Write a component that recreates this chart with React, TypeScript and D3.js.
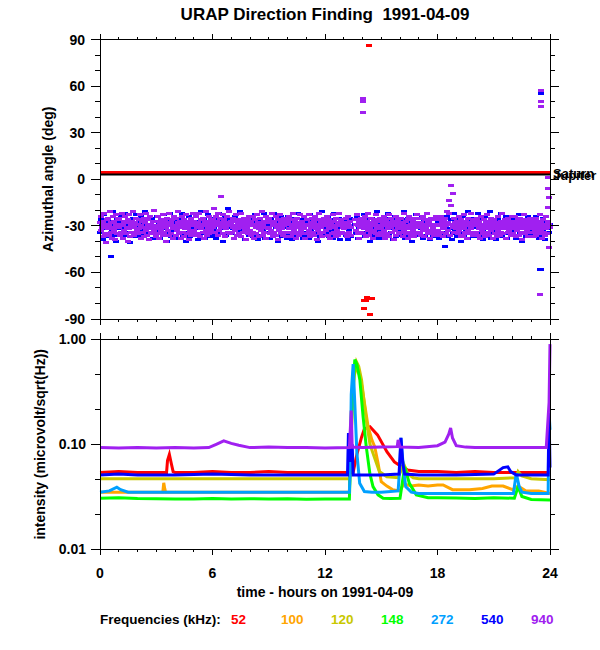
import React from 'react';
import * as d3 from 'd3';

// ---- chart values ----
const titleText = 'URAP Direction Finding  1991-04-09';
const hourTicks = [0, 6, 12, 18, 24];
const angleTicks = [-90, -60, -30, 0, 30, 60, 90];
const intensityTicks = [1, 0.1, 0.01];
const intensityLabels = ['1.00', '0.10', '0.01'];

const freqLabels = ['52', '100', '120', '148', '272', '540', '940'];
const freqColors = ['#FF0000', '#FFA500', '#C8C800', '#00FF00', '#00A0FF', '#0000FF', '#A020F0'];

const planetNames = ['Saturn', 'Jupiter'];
const planetAngles = [4.3, 3.0];
const planetColors = ['#FF0000', '#000000'];

// 940 kHz azimuth, three samples per 0.1 h, one row per hour
const purpleAngles: (number | null)[] = [
  -28, -33, -24, -31, -37, -27, -22, -30, -35, -29, -41, -26, -32, -25, -36, -30, -21, -34, -28, -38, -31, -24, -33, -27, -39, -29, -23, -35, -30, -26,
  -31, -25, -36, -29, -34, -22, -38, -30, -27, -33, -24, -35, -28, -31, -40, -26, -32, -23, -37, -29, -34, -27, -30, -21, -36, -31, -28, -35, -25, -33,
  -29, -35, -26, -32, -23, -38, -30, -27, -34, -31, -25, -37, -28, -33, -22, -36, -30, -26, -39, -31, -24, -34, -29, -32, -27, -35, -20, -33, -30, -37,
  -32, -27, -35, -24, -30, -38, -28, -33, -26, -31, -36, -23, -29, -34, -27, -40, -31, -25, -33, -29, -22, -36, -30, -28, -35, -26, -32, -38, -24, -31,
  -30, -36, -25, -33, -28, -21, -35, -31, -27, -38, -29, -24, -34, -30, -26, -37, -32, -28, -23, -35, -31, -27, -39, -29, -33, -25, -36, -30, -22, -34,
  -27, -33, -29, -36, -24, -31, -28, -35, -22, -30, -37, -26, -32, -29, -34, -25, -38, -30, -27, -33, -21, -36, -31, -28, -35, -24, -30, -33, -26, -29,
  -26, -31, -19, -28, -34, -24, -30, -27, -36, -22, -29, -33, -25, -11, -31, -28, -35, -23, -30, -26, -37, -29, -32, -24, -34, -28, -30, -21, -35, -27,
  -29, -34, -25, -31, -38, -27, -33, -23, -30, -36, -28, -32, -26, -35, -29, -22, -37, -31, -27, -34, -30, -25, -33, -28, -39, -31, -26, -35, -29, -24,
  -33, -27, -36, -30, -24, -34, -29, -38, -26, -31, -35, -23, -30, -28, -37, -32, -25, -33, -29, -21, -36, -30, -27, -34, -31, -24, -38, -28, -32, -26,
  -31, -25, -35, -28, -33, -22, -37, -30, -27, -34, -29, -24, -36, -31, -26, -39, -30, -33, -23, -35, -28, -32, -27, -36, -30, -25, -34, -29, -37, -26,
  -28, -34, -24, -32, -29, -37, -26, -31, -35, -22, -30, -33, -27, -38, -29, -25, -34, -31, -28, -36, -23, -30, -33, -27, -35, -29, -24, -32, -38, -30,
  -30, -26, -35, -29, -33, -23, -37, -28, -31, -25, -34, -30, -27, -36, -24, -32, -29, -39, -26, -33, -30, -22, -35, -28, -31, -37, -27, -34, -29, -25,
  -27, -33, -30, -24, -36, -29, -32, -26, -38, -31, -28, -35, -23, -30, -34, -27, -31, -37, -25, -33, -29, -36, -28, -22, -35, -30, -26, -34, -31, -29,
  -32, -28, -35, -25, -31, -37, -29, -24, -34, -30, -27, -36, -31, null, null, null, null, null, -26, -33, -29, -23, -35, -30, -27, -38, -31, -25, -34, -28,
  -29, -35, -26, -32, -24, -37, -30, -27, -33, -22, -36, -29, -31, -25, -34, -28, -38, -30, -26, -33, -29, -35, -23, -31, -27, -36, -30, -32, -25, -34,
  -31, -27, -36, -29, -33, -24, -38, -30, -26, -35, -28, -32, -23, -37, -29, -31, -25, -34, -30, -27, -39, -28, -33, -24, -36, -30, -26, -32, -35, -29,
  -28, -34, -25, -31, -37, -29, -33, -22, -30, -35, -27, -32, -26, -38, -30, -24, -34, -29, -36, -31, -27, -33, -25, -37, -30, -28, -35, -23, -31, -34,
  -30, -25, -34, -28, -36, -31, -24, -33, -29, -37, -26, -32, -30, -22, -35, -28, -33, -27, -38, -30, -25, -34, -31, -29, -36, -26, -33, -30, -24, -35,
  -29, -33, -26, -36, -30, -24, -34, -28, -31, -37, -27, -32, -25, -35, -30, -21, -33, -28, -14, -22, -36, -4, -17, -29, -9, -31, -25, -34, -28, -32,
  -31, -27, -35, -29, -24, -33, -30, -37, -26, -32, -28, -36, -23, -31, -34, -27, -30, -38, -25, -33, -29, -35, -28, -22, -32, -30, -36, -26, -34, -29,
  -28, -34, -30, -25, -36, -29, -32, -27, -38, -31, -24, -33, -29, -35, -26, -30, -37, -28, -32, -23, -34, -30, -27, -36, -31, -25, -33, -29, -38, -27,
  -32, -26, -35, -30, -28, -37, -24, -33, -29, -31, -36, -27, -34, -22, -30, -35, -28, -32, -26, -38, -31, -29, -34, -25, -33, -30, -27, -36, -31, -24,
  -29, -35, -27, -32, -24, -37, -30, -33, -26, -31, -28, -36, -25, -34, -30, -39, -27, -32, -29, -23, -35, -31, -26, -33, -37, -28, -30, -34, -25, -32,
  -30, -26, -34, -31, -37, -28, -33, -25, -36, -29, -32, -27, -35, -30, -23, -33, -28, -38, -31, -26, -34, -29, -36, -24, -32, -30, -27, -35, -44, -29,
  -31,
];

// 540 kHz azimuth, two samples per 0.1 h, one row per hour
const blueAngles: (number | null)[] = [
  -34, -26, -30, -39, -23, -32, -28, -35, -25, -31, -37, -27, -50, -33, -21, -36, -29, -40, -26, -32,
  -28, -35, -24, -31, -38, -29, -33, -22, -36, -30, -26, -34, -41, -28, -31, -25, -37, -30, -23, -33,
  -31, -37, -27, -33, -24, -30, -36, -28, -21, -34, -32, -26, -39, -29, -35, -25, -31, -38, -27, -33,
  -30, -24, -35, -29, -38, -26, -32, -36, -23, -31, -28, -40, -34, -27, -30, -22, -37, -29, -33, -25,
  -27, -33, -38, -25, -31, -35, -29, -22, -36, -30, -26, -34, -40, -28, -32, -24, -37, -31, -27, -35,
  -33, -28, -24, -36, -30, -39, -27, -32, -21, -35, -29, -26, -38, -31, -34, -23, -30, -37, -28, -33,
  -29, -36, -31, -25, -38, -28, -33, -22, -35, -30, -27, -40, -32, -24, -36, -29, -19, -34, -31, -26,
  -35, -27, -32, -38, -24, -30, -36, -28, -33, -21, -37, -31, -26, -34, -29, -39, -25, -32, -30, -36,
  -26, -34, -30, -37, -28, -23, -35, -31, -39, -27, -32, -25, -36, -29, -33, -22, -38, -30, -27, -34,
  -32, -38, -25, -30, -35, -28, -22, -36, -31, -27, -40, -33, -29, -24, -37, -31, -26, -34, -30, -38,
  -29, -24, -36, -32, -27, -39, -30, -34, -25, -37, -31, -22, -35, -28, -33, -26, -38, -30, -24, -36,
  -34, -30, -27, -38, -23, -33, -29, -36, -31, -25, -35, -28, -40, -32, -26, -37, -30, -21, -34, -29,
  -27, -35, -31, -24, -37, -29, -33, -26, -38, -30, -22, -36, -32, -28, -34, -25, -39, -31, -27, -35,
  -31, -26, -36, -30, -39, -28, -33, -25, -37, null, null, null, -29, -35, -24, -38, -31, -27, -34, -30,
  -28, -34, -23, -37, -31, -26, -35, -29, -40, -32, -25, -36, -30, -27, -33, -21, -38, -31, -28, -35,
  -33, -27, -38, -30, -25, -35, -31, -22, -36, -29, -34, -26, -39, -32, -28, -24, -37, -30, -33, -27,
  -30, -36, -26, -33, -21, -38, -29, -34, -31, -25, -37, -28, -32, -40, -27, -35, -30, -23, -36, -31,
  -35, -29, -32, -24, -38, -30, -27, -36, -31, -22, -34, -28, -39, -33, -26, -37, -30, -25, -35, -29,
  -27, -33, -38, -30, -25, -36, -31, -28, -43, -34, -24, -37, -29, -32, -26, -39, -30, -35, -22, -33,
  -31, -37, -26, -34, -29, -40, -32, -24, -36, -28, -33, -30, -21, -38, -31, -27, -35, -29, -25, -37,
  -28, -34, -31, -22, -37, -29, -35, -26, -33, -39, -30, -24, -36, -32, -27, -34, -21, -38, -30, -33,
  -33, -27, -39, -31, -25, -36, -29, -34, -22, -37, -30, -28, -35, -24, -38, -31, -26, -33, -29, -36,
  -30, -36, -25, -33, -38, -28, -31, -23, -35, -29, -40, -27, -32, -26, -37, -30, -34, -24, -31, -36,
  -26, -33, -37, -29, -31, -24, -35, -30, -38, -27, -58, -36, -25, -33, -29, -39, -31, -28, -32, -34,
  -29,
];

// isolated azimuth points [hour, deg]
const purpleOutliers = [[14.0, 52], [14.0, 50], [14.0, 43], [23.5, 57], [23.5, 50], [23.5, 47], [23.45, -74], [23.9, 1], [23.9, -6], [23.95, -12], [23.9, -18]];
const blueOutliers = [[14.0, 50], [23.5, 55], [23.45, -58]];
const redOutliers = [[14.35, 86], [14.1, -78], [14.2, -78], [14.25, -76], [14.5, -77], [14.1, -83], [14.4, -87]];

// intensity series [hour, microvolt/sqrt(Hz)]
const f52 = [[0, 0.054], [1, 0.055], [2, 0.054], [3, 0.054], [3.55, 0.054], [3.6, 0.07], [3.7, 0.08], [3.8, 0.066], [3.9, 0.055], [4, 0.054], [5, 0.054], [6, 0.055], [7, 0.054], [8, 0.054], [9, 0.055], [10, 0.054], [11, 0.054], [12, 0.054], [13, 0.054], [13.5, 0.054], [13.7, 0.08], [13.95, 0.117], [14.1, 0.14], [14.4, 0.147], [14.8, 0.123], [15.3, 0.085], [15.7, 0.068], [16.1, 0.061], [16.4, 0.057], [17, 0.055], [18, 0.055], [19, 0.054], [20, 0.055], [21, 0.054], [22, 0.054], [23, 0.054], [24, 0.054]];
const f100 = [[0, 0.035], [1, 0.035], [2, 0.035], [3, 0.035], [3.35, 0.035], [3.4, 0.043], [3.45, 0.038], [3.5, 0.035], [5, 0.035], [7, 0.035], [9, 0.035], [11, 0.035], [13.3, 0.035], [13.4, 0.2], [13.55, 0.45], [13.7, 0.55], [13.9, 0.42], [14.1, 0.25], [14.3, 0.147], [14.5, 0.11], [14.65, 0.095], [14.83, 0.066], [15.0, 0.044], [15.3, 0.04], [15.6, 0.037], [16.0, 0.036], [16.2, 0.042], [16.6, 0.04], [17.0, 0.041], [17.5, 0.04], [18.0, 0.041], [18.3, 0.041], [18.8, 0.037], [19.7, 0.037], [20.4, 0.038], [20.9, 0.04], [21.5, 0.04], [22.0, 0.037], [22.3, 0.04], [22.7, 0.036], [23.4, 0.036], [24, 0.034]];
const f120 = [[0, 0.047], [2, 0.047], [4, 0.047], [6, 0.047], [8, 0.047], [10, 0.047], [12, 0.047], [13.3, 0.047], [13.45, 0.2], [13.55, 0.45], [13.68, 0.61], [13.8, 0.55], [13.95, 0.41], [14.2, 0.17], [14.4, 0.1], [14.56, 0.082], [14.9, 0.055], [15.3, 0.049], [15.9, 0.048], [16.2, 0.065], [16.4, 0.053], [16.7, 0.048], [17, 0.047], [19, 0.047], [21, 0.047], [22.2, 0.048], [22.3, 0.055], [22.5, 0.05], [23, 0.047], [24, 0.046]];
const f148 = [[0, 0.0306], [1, 0.031], [2, 0.0305], [3, 0.0303], [4, 0.0302], [5, 0.0302], [6, 0.0305], [7, 0.0302], [8, 0.0303], [9, 0.0302], [10, 0.0303], [11, 0.03], [12, 0.0302], [13.3, 0.0302], [13.45, 0.25], [13.59, 0.64], [13.7, 0.58], [13.86, 0.41], [14.03, 0.184], [14.2, 0.095], [14.39, 0.053], [14.56, 0.0395], [14.83, 0.033], [15.1, 0.0306], [15.5, 0.0305], [16.0, 0.0306], [16.25, 0.061], [16.5, 0.0425], [16.87, 0.033], [17.5, 0.031], [18, 0.031], [19, 0.0308], [20, 0.0305], [21, 0.031], [22.1, 0.0306], [22.3, 0.0395], [22.5, 0.0318], [23, 0.0298], [24, 0.0295]];
const f272 = [[0, 0.035], [0.5, 0.036], [0.9, 0.039], [1.1, 0.037], [1.5, 0.035], [3, 0.035], [5, 0.035], [7, 0.035], [9, 0.035], [11, 0.035], [13.3, 0.035], [13.35, 0.06], [13.4, 0.3], [13.5, 0.58], [13.6, 0.22], [13.7, 0.083], [13.85, 0.0425], [14.1, 0.0355], [14.5, 0.035], [15, 0.035], [15.9, 0.036], [16.0, 0.066], [16.05, 0.115], [16.15, 0.07], [16.3, 0.0395], [16.6, 0.035], [17, 0.034], [19, 0.034], [21, 0.034], [22.05, 0.034], [22.2, 0.053], [22.35, 0.04], [22.5, 0.035], [23, 0.034], [23.9, 0.034], [23.95, 0.2], [24, 0.137]];
const f540 = [[0, 0.051], [1, 0.052], [2, 0.051], [4, 0.051], [6, 0.052], [8, 0.051], [10, 0.051], [12, 0.051], [13.2, 0.051], [13.25, 0.128], [13.35, 0.068], [13.45, 0.1], [13.5, 0.051], [14, 0.051], [15, 0.051], [15.95, 0.052], [16.05, 0.115], [16.15, 0.066], [16.25, 0.052], [17, 0.051], [19, 0.051], [21, 0.052], [21.5, 0.06], [21.75, 0.061], [21.9, 0.055], [22.2, 0.051], [23, 0.051], [23.9, 0.051], [23.95, 0.2], [24, 0.06]];
const f940 = [[0, 0.093], [1, 0.092], [2, 0.093], [3, 0.092], [4, 0.093], [5, 0.092], [5.8, 0.093], [6.2, 0.1], [6.6, 0.108], [7.0, 0.102], [7.4, 0.098], [8, 0.093], [9, 0.094], [10, 0.093], [11, 0.093], [12, 0.092], [13.3, 0.093], [13.4, 0.21], [13.45, 0.094], [14, 0.093], [15, 0.094], [15.85, 0.095], [15.9, 0.11], [16, 0.094], [17, 0.093], [18, 0.097], [18.4, 0.105], [18.6, 0.125], [18.7, 0.143], [18.8, 0.115], [19, 0.097], [19.5, 0.094], [20, 0.093], [21, 0.093], [22, 0.093], [23, 0.093], [23.8, 0.093], [23.95, 0.25], [24, 0.9]];
const intensitySeries = [f52, f100, f120, f148, f272, f540, f940];

const font = "'Liberation Sans', Arial, Helvetica, sans-serif";

const x = d3.scaleLinear().domain([0, 24]).range([100, 550]);
const yAng = d3.scaleLinear().domain([-90, 90]).range([319, 39.5]);
const yInt = d3.scaleLog().domain([0.01, 1]).range([549.3, 339.3]);

interface FrameProps {
  top: number;
  bottom: number;
  major: number[];
  minor: number[];
}

// box with outward ticks on all four sides
const Frame: React.FC<FrameProps> = ({ top, bottom, major, minor }) => {
  const [x0, x1] = x.range();
  const hours = d3.range(0, 25);
  return (
    <g stroke="#000" strokeWidth={1} fill="none" shapeRendering="crispEdges">
      <rect x={x0} y={top} width={x1 - x0} height={bottom - top} />
      {hours.map(h => {
        const len = h % 6 === 0 ? 6 : 3;
        return (
          <g key={'h' + h}>
            <line x1={x(h)} x2={x(h)} y1={top} y2={top - len} />
            <line x1={x(h)} x2={x(h)} y1={bottom} y2={bottom + len} />
          </g>
        );
      })}
      {major.map((py, i) => (
        <g key={'M' + i}>
          <line x1={x0 - 9} x2={x0} y1={py} y2={py} />
          <line x1={x1} x2={x1 + 9} y1={py} y2={py} />
        </g>
      ))}
      {minor.map((py, i) => (
        <g key={'m' + i}>
          <line x1={x0 - 5} x2={x0} y1={py} y2={py} />
          <line x1={x1} x2={x1 + 5} y1={py} y2={py} />
        </g>
      ))}
    </g>
  );
};

const App: React.FC = () => {
  const angleMinor = d3.range(-80, 90, 10).filter(a => a % 30 !== 0).map(a => yAng(a));
  const intMinor = [-1 / 3, -2 / 3, -4 / 3, -5 / 3].map(e => yInt(Math.pow(10, e)));

  const purplePts = purpleAngles
    .map((a, i) => ({ h: Math.floor(i / 3) * 0.1 + (i % 3) / 30, a }))
    .filter(d => d.a !== null) as { h: number; a: number }[];
  const bluePts = blueAngles
    .map((a, i) => ({ h: Math.floor(i / 2) * 0.1 + (i % 2) * 0.05, a }))
    .filter(d => d.a !== null) as { h: number; a: number }[];

  const line = d3.line<number[]>()
    .x(d => x(d[0]))
    .y(d => yInt(d[1]));

  const dot = (h: number, a: number, color: string, key: string) => (
    <rect key={key} x={x(h) - 3} y={yAng(a) - 1.5} width={6} height={3} fill={color} />
  );

  return (
    <svg width={600} height={650} style={{ position: 'absolute', left: 0, top: 0, background: '#fff' }}
      fontFamily={font} fontWeight="bold">
      <rect x={0} y={0} width={600} height={650} fill="#fff" />
      <text x={325} y={19.5} fontSize={17} textAnchor="middle" style={{ whiteSpace: 'pre' }}>{titleText}</text>

      {/* top panel: azimuth */}
      <g shapeRendering="crispEdges">
        {bluePts.map((d, i) => dot(d.h, d.a, freqColors[5], 'b' + i))}
        {purplePts.map((d, i) => dot(d.h, d.a, freqColors[6], 'p' + i))}
        {blueOutliers.map((d, i) => dot(d[0], d[1], freqColors[5], 'bo' + i))}
        {purpleOutliers.map((d, i) => dot(d[0], d[1], freqColors[6], 'po' + i))}
        {redOutliers.map((d, i) => dot(d[0], d[1], freqColors[0], 'ro' + i))}
      </g>
      {planetAngles.map((a, i) => (
        <line key={'pl' + i} x1={x(0)} x2={x(24)} y1={yAng(a)} y2={yAng(a)}
          stroke={planetColors[i]} strokeWidth={i === 0 ? 3 : 2} />
      ))}
      {planetNames.map((n, i) => (
        <text key={'pn' + i} x={553} y={yAng(planetAngles[i]) + 5} fontSize={13} fill="#000">{n}</text>
      ))}
      <Frame top={yAng(90)} bottom={yAng(-90)} major={angleTicks.map(a => yAng(a))} minor={angleMinor} />
      {angleTicks.map(a => (
        <text key={'at' + a} x={85} y={yAng(a) + 5} fontSize={14} textAnchor="end">{a}</text>
      ))}
      <text transform={`translate(53,${yAng(0)}) rotate(-90)`} fontSize={14} textAnchor="middle">Azimuthal angle (deg)</text>

      {/* bottom panel: intensity */}
      <g fill="none" strokeWidth={3}>
        {intensitySeries.map((s, i) => (
          <path key={'s' + i} d={line(s) ?? ''} stroke={freqColors[i]} />
        ))}
      </g>
      <Frame top={yInt(1)} bottom={yInt(0.01)} major={intensityTicks.map(v => yInt(v))} minor={intMinor} />
      {intensityTicks.map((v, i) => (
        <text key={'it' + i} x={86} y={yInt(v) + 5} fontSize={14} textAnchor="end">{intensityLabels[i]}</text>
      ))}
      <text transform={`translate(45,${yInt(0.1)}) rotate(-90)`} fontSize={14} textAnchor="middle">intensity (microvolt/sqrt(Hz))</text>

      {hourTicks.map(h => (
        <text key={'ht' + h} x={x(h)} y={578} fontSize={14} textAnchor="middle">{h}</text>
      ))}
      <text x={325} y={597} fontSize={14} textAnchor="middle">time - hours on 1991-04-09</text>

      <text x={100} y={624} fontSize={13.5}>Frequencies (kHz):</text>
      {freqLabels.map((f, i) => (
        <text key={'fl' + f} x={231 + i * 50} y={624} fontSize={13.5} fill={freqColors[i]}>{f}</text>
      ))}
    </svg>
  );
};

export default App;
